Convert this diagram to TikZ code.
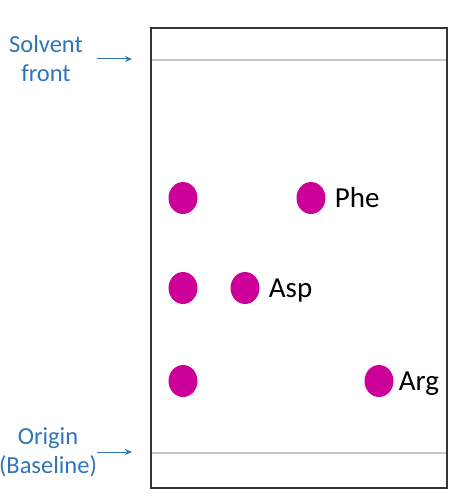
\documentclass[tikz,border=0pt]{standalone}
\usepackage{fontspec}
\setmainfont{Carlito}
\usetikzlibrary{arrows.meta, shapes.geometric, positioning}
\usepackage{xcolor}

\definecolor{spotcol}{HTML}{CC0099}
\definecolor{labelblue}{HTML}{2E75B6}

\tikzset{
  spot/.style={ellipse, fill=spotcol, minimum width=29pt, minimum height=32pt, inner sep=0pt},
  aminolbl/.style={anchor=west, inner sep=0pt, text height=18pt, text depth=0pt,
    font=\fontsize{29}{33}\selectfont},
  sidelbl/.style={align=center, text=labelblue, inner sep=0pt,
    font=\fontsize{24.5}{29}\selectfont},
  pointer/.style={-{Stealth[length=7pt, width=6pt]}, draw=labelblue, line width=1pt},
  refline/.style={draw=black!22, line width=1.5pt}
}

\begin{document}
\begin{tikzpicture}[x=1pt, y=-1pt]
  \useasboundingbox (0,0) rectangle (462,500);

  % solvent front and origin lines
  \coordinate (frontL) at (151,60);
  \coordinate (frontR) at (447,60);
  \coordinate (baseL) at (151,453);
  \coordinate (baseR) at (447,453);
  \draw[refline] (frontL) -- (frontR);
  \draw[refline] (baseL) -- (baseR);

  % plate
  \draw[line width=1.5pt, black!80] (151,28) rectangle (447,488);

  % reference column
  \foreach \y/\n in {198/1, 288/2, 381/3} {
    \node[spot] (ref\n) at (183,\y) {};
  }

  % separated amino acids
  \node[spot] (phe) at (311,198) {};
  \node[aminolbl, right=9pt of phe] (pheL) {Phe};
  \node[spot] (asp) at (245,288) {};
  \node[aminolbl, right=9pt of asp] (aspL) {Asp};
  \node[spot] (arg) at (379,381) {};
  \node[aminolbl, right=5pt of arg] (argL) {Arg};

  % side labels
  \node[sidelbl] (solv) at (46,59) {Solvent\\front};
  \coordinate (solvA) at (97,59);
  \coordinate (solvB) at (132,59);
  \draw[pointer] (solvA) -- (solvB);

  \node[sidelbl] (orig) at (48,452) {Origin\\(Baseline)};
  \coordinate (origA) at (97,452);
  \coordinate (origB) at (132,452);
  \draw[pointer] (origA) -- (origB);
\end{tikzpicture}
\end{document}
